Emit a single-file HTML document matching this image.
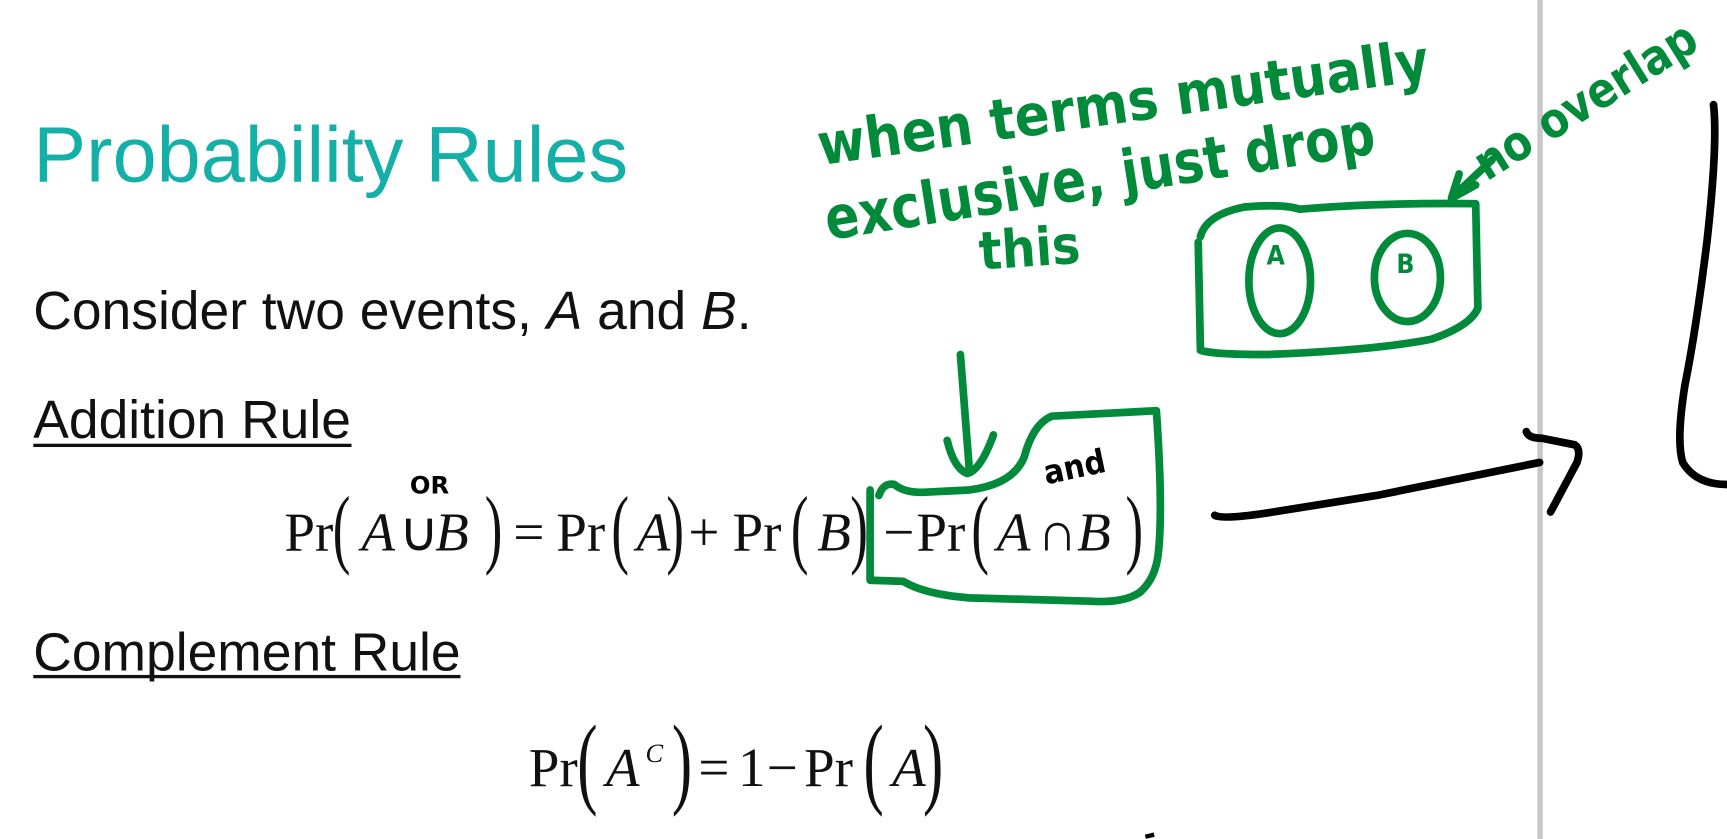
<!DOCTYPE html>
<html><head><meta charset="utf-8"><style>
html,body{margin:0;padding:0;background:#fff;width:1727px;height:839px;overflow:hidden}
svg{display:block}
.s{font-family:"Liberation Sans",sans-serif}
.m{font-family:"Liberation Serif",serif;fill:#111}
.i{font-style:italic}
.h{font-family:"DejaVu Sans Condensed","DejaVu Sans",sans-serif;font-weight:bold;fill:#008a3a}
.g{fill:none;stroke:#008a3a;stroke-width:7;stroke-linecap:round;stroke-linejoin:round}
.k{fill:none;stroke:#000;stroke-width:7;stroke-linecap:round;stroke-linejoin:round}
</style></head><body>
<svg width="1727" height="839" viewBox="0 0 1568 762" xmlns="http://www.w3.org/2000/svg">
<rect width="1568" height="762" fill="#fff"/>
<rect x="1396" y="0" width="5" height="762" fill="#c8c8c8"/>
<text class="s" x="30" y="165" style="font-size:72px" fill="#14b0a8">Probability Rules</text>
<text class="s" x="30" y="299" style="font-size:48.5px" fill="#111">Consider two events, <tspan font-style="italic">A</tspan> and <tspan font-style="italic">B</tspan>.</text>
<text class="s" x="30" y="398" style="font-size:48.5px" fill="#111">Addition Rule</text>
<rect x="30" y="403" width="289" height="3" fill="#111"/>
<text class="s" x="30" y="609" style="font-size:48.5px" fill="#111">Complement Rule</text>
<rect x="30" y="613" width="388" height="3" fill="#111"/>

<!-- equation 1 -->
<g style="font-size:50px">
<text class="m" x="258" y="500">Pr</text>
<text class="m" x="0" y="0" style="font-size:80px" transform="translate(302,506) scale(0.6,1)">(</text>
<text class="m i" x="328" y="500">A</text>
<text class="m" x="362" y="500">∪</text>
<text class="m i" x="395" y="500">B</text>
<text class="m" x="0" y="0" style="font-size:80px" transform="translate(440,506) scale(0.6,1)">)</text>
<text class="m" x="466" y="500">=</text>
<text class="m" x="505" y="500">Pr</text>
<text class="m" x="0" y="0" style="font-size:80px" transform="translate(555,506) scale(0.6,1)">(</text>
<text class="m i" x="578" y="500">A</text>
<text class="m" x="0" y="0" style="font-size:80px" transform="translate(605,506) scale(0.6,1)">)</text>
<text class="m" x="625" y="500">+</text>
<text class="m" x="665" y="500">Pr</text>
<text class="m" x="0" y="0" style="font-size:80px" transform="translate(718,506) scale(0.6,1)">(</text>
<text class="m i" x="742" y="500">B</text>
<text class="m" x="0" y="0" style="font-size:80px" transform="translate(772,506) scale(0.6,1)">)</text>
<text class="m" x="802" y="500">−</text>
<text class="m" x="832" y="500">Pr</text>
<text class="m" x="0" y="0" style="font-size:80px" transform="translate(882,506) scale(0.6,1)">(</text>
<text class="m i" x="905" y="500">A</text>
<text class="m" x="942" y="500">∩</text>
<text class="m i" x="978" y="500">B</text>
<text class="m" x="0" y="0" style="font-size:80px" transform="translate(1022,506) scale(0.6,1)">)</text>
</g>
<!-- equation 2 -->
<g style="font-size:50px">
<text class="m" x="480" y="714">Pr</text>
<text class="m" x="0" y="0" style="font-size:92px" transform="translate(524,722) scale(0.6,1)">(</text>
<text class="m i" x="550" y="714">A</text>
<text class="m i" x="586" y="692" style="font-size:24px">C</text>
<text class="m" x="0" y="0" style="font-size:92px" transform="translate(610,722) scale(0.6,1)">)</text>
<text class="m" x="634" y="714">=</text>
<text class="m" x="670" y="714">1</text>
<text class="m" x="696" y="714">−</text>
<text class="m" x="730" y="714">Pr</text>
<text class="m" x="0" y="0" style="font-size:92px" transform="translate(784,722) scale(0.6,1)">(</text>
<text class="m i" x="810" y="714">A</text>
<text class="m" x="0" y="0" style="font-size:92px" transform="translate(838,722) scale(0.6,1)">)</text>
</g>

<!-- black annotations -->
<text x="0" y="0" transform="translate(372,448)" font-family="DejaVu Sans" font-weight="bold" font-size="22" fill="#000">OR</text>
<text x="0" y="0" transform="translate(950,440) rotate(-12)" font-family="DejaVu Sans Condensed" font-weight="bold" font-size="30" fill="#000">and</text>
<path class="k" d="M1103,468 Q1110,472 1150,466 L1250,450 L1398,420"/>
<path class="k" d="M1386,392 Q1388,398 1400,398 L1430,404 Q1436,408 1432,420 L1408,465"/>
<path class="k" d="M1556,95 Q1560,130 1550,220 Q1540,300 1530,350 Q1522,400 1528,420 Q1540,440 1568,440"/>
<path d="M1040,760 L1048,758" stroke="#000" stroke-width="4"/>

<!-- green annotations -->
<g class="h">
<text x="0" y="0" transform="translate(745,150) rotate(-8)" font-size="52" textLength="560" lengthAdjust="spacingAndGlyphs">when terms mutually</text>
<text x="0" y="0" transform="translate(752,218) rotate(-9)" font-size="54" textLength="505" lengthAdjust="spacingAndGlyphs">exclusive, just drop</text>
<text x="0" y="0" transform="translate(890,245) rotate(-4)" font-size="48" textLength="92" lengthAdjust="spacingAndGlyphs">this</text>
<text x="0" y="0" transform="translate(1350,165) rotate(-32)" font-size="44" textLength="230" lengthAdjust="spacingAndGlyphs">no overlap</text>
<text x="1150" y="240" font-size="24" font-weight="bold">A</text>
<text x="1268" y="248" font-size="24" font-weight="bold">B</text>
</g>
<path class="g" d="M1318,180 L1325,158 M1318,180 L1340,168 M1320,178 L1355,145"/>
<path class="g" d="M1090,215 Q1095,195 1130,188 Q1165,185 1180,190 Q1250,184 1340,185 L1342,280 Q1335,296 1300,308 Q1250,318 1150,322 Q1100,322 1090,318 L1088,220"/>
<ellipse class="g" cx="1162" cy="255" rx="28" ry="48"/>
<ellipse class="g" cx="1278" cy="252" rx="30" ry="40"/>
<path class="g" d="M872,322 L880,425"/>
<path class="g" d="M860,400 Q866,425 878,430 Q890,428 902,395"/>
<path class="g" d="M798,450 Q802,438 812,440 Q822,448 840,447 L880,445 Q920,440 930,415 Q938,385 955,378 L1050,373 Q1056,460 1052,500 Q1050,525 1035,538 Q1020,548 990,546 L880,543 Q840,540 820,528 L790,527 L790,445"/>
</svg>
</body></html>
